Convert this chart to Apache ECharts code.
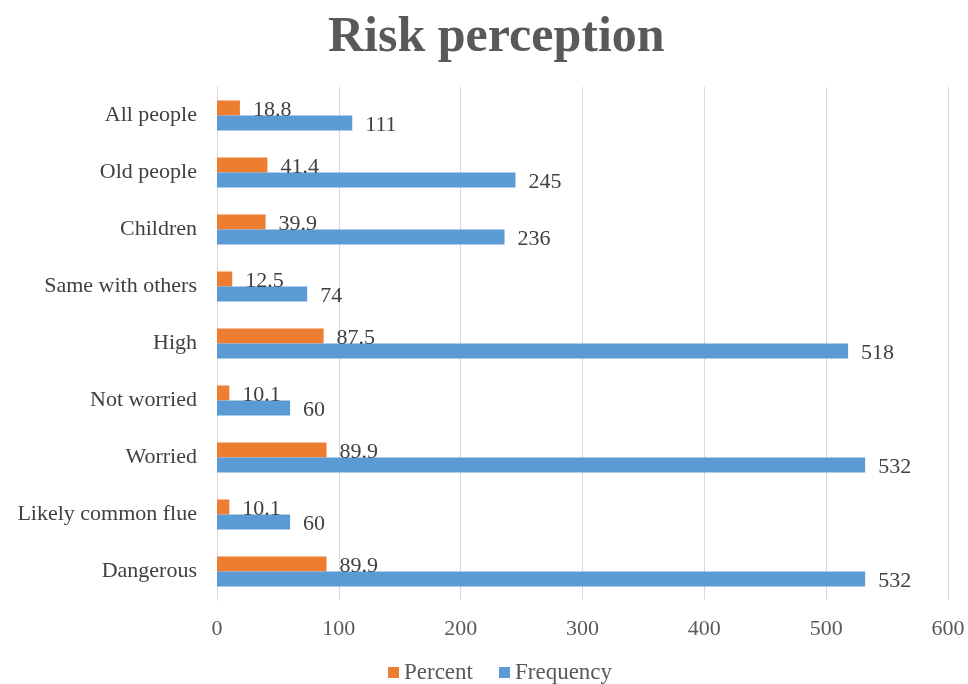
<!DOCTYPE html>
<html>
<head>
<meta charset="utf-8">
<script src="https://cdn.jsdelivr.net/npm/echarts@6/dist/echarts.min.js"></script>
<style>
  html, body { margin: 0; padding: 0; background: #fff; }
  #chart { width: 968px; height: 684px; }
</style>
</head>
<body>
<div id="chart"></div>
<script>
// Categories listed top to bottom
const categories = ['All people', 'Old people', 'Children', 'Same with others', 'High',
  'Not worried', 'Worried', 'Likely common flue', 'Dangerous'];
const percentValues = [18.8, 41.4, 39.9, 12.5, 87.5, 10.1, 89.9, 10.1, 89.9];
const frequencyValues = [111, 245, 236, 74, 518, 60, 532, 60, 532];
const xTicks = { min: 0, max: 600, interval: 100 };

const FONT = '"Liberation Serif", "Times New Roman", serif';
const TEXT = '#595959';

const labelStyle = {
  show: true,
  position: 'right',
  distance: 13,
  offset: [0, 2],
  fontFamily: FONT,
  fontSize: 22,
  color: '#404040'
};

const chart = echarts.init(document.getElementById('chart'));
chart.setOption({
  animation: false,
  backgroundColor: '#fff',
  title: {
    text: 'Risk perception',
    left: 323,
    top: 8,
    textStyle: { fontFamily: FONT, fontSize: 50, fontWeight: 'bold', color: TEXT }
  },
  legend: {
    bottom: -5,
    left: 383,
    itemWidth: 11,
    itemHeight: 11,
    itemGap: 26,
    icon: 'rect',
    textStyle: { fontFamily: FONT, fontSize: 23, color: TEXT },
    data: ['Percent', 'Frequency']
  },
  grid: { left: 217, right: 20, top: 87, bottom: 84, containLabel: false },
  xAxis: {
    type: 'value',
    min: xTicks.min,
    max: xTicks.max,
    interval: xTicks.interval,
    axisLine: { show: false },
    axisTick: { show: false },
    splitLine: { lineStyle: { color: '#D9D9D9', width: 1 } },
    axisLabel: { fontFamily: FONT, fontSize: 22, color: TEXT, margin: 18 }
  },
  yAxis: {
    type: 'category',
    data: categories,
    inverse: true,
    axisLine: { show: true, lineStyle: { color: '#D9D9D9' } },
    axisTick: { show: false },
    axisLabel: { fontFamily: FONT, fontSize: 22, color: '#404040', margin: 20 }
  },
  series: [
    {
      name: 'Percent',
      type: 'bar',
      data: percentValues,
      barWidth: 15,
      barGap: '0%',
      itemStyle: { color: '#ED7D31' },
      label: labelStyle
    },
    {
      name: 'Frequency',
      type: 'bar',
      data: frequencyValues,
      barWidth: 15,
      barGap: '0%',
      itemStyle: { color: '#5B9BD5' },
      label: labelStyle
    }
  ]
});
</script>
</body>
</html>
